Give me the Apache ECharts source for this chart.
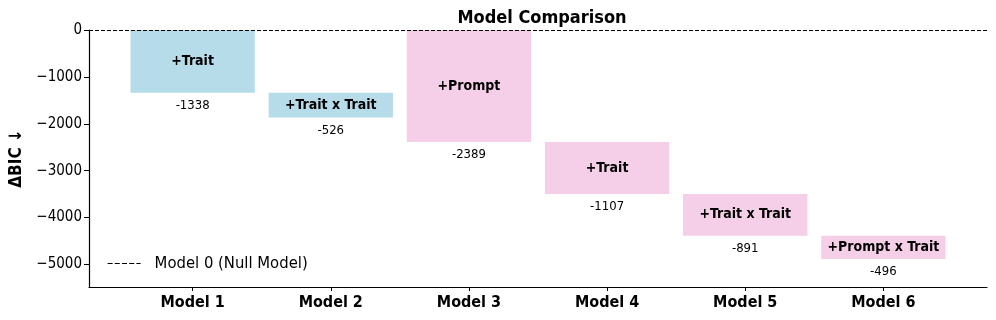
<!DOCTYPE html>
<html>
<head>
<meta charset="utf-8">
<script src="https://cdn.jsdelivr.net/npm/echarts@6/dist/echarts.min.js"></script>
<style>
  html, body { margin: 0; padding: 0; background: #fff; }
  #chart { width: 996px; height: 320px; }
</style>
</head>
<body>
<div id="chart"></div>
<script>
// data
const models = ['Model 1', 'Model 2', 'Model 3', 'Model 4', 'Model 5', 'Model 6']
const steps = ['+Trait', '+Trait x Trait', '+Prompt', '+Trait', '+Trait x Trait', '+Prompt x Trait']
const deltas = [-1338, -526, -2389, -1107, -891, -496]
// 0 = trait-only chain (blue), 1 = prompt chain (pink); a new chain starts again from 0
const groups = [0, 0, 1, 1, 1, 1]
const yTicks = [0, -1000, -2000, -3000, -4000, -5000]

const colors = ['#B5DCE8', '#F5CEE7']
const font = "'DejaVu Sans Condensed', 'DejaVu Sans', sans-serif"

// waterfall: each bar goes from the running total to running total + delta
let bars = []
let total = 0
for (let i = 0; i < deltas.length; i++) {
    if (i > 0 && groups[i] !== groups[i - 1]) total = 0
    bars.push([i, total, total + deltas[i], groups[i]])
    total += deltas[i]
}

function renderItem(params, api) {
    const i = api.value(0)
    const top = api.coord([i - 0.45, api.value(1)])
    const bot = api.coord([i + 0.45, api.value(2)])
    const cx = (top[0] + bot[0]) / 2
    return {
        type: 'group',
        children: [
            {
                type: 'rect',
                shape: { x: top[0], y: top[1], width: bot[0] - top[0], height: bot[1] - top[1] },
                style: { fill: colors[api.value(3)] }
            },
            {
                type: 'text',
                style: {
                    x: cx, y: (top[1] + bot[1]) / 2,
                    text: steps[params.dataIndex],
                    align: 'center', verticalAlign: 'middle',
                    font: 'bold 14px ' + font, fill: '#000'
                }
            },
            {
                type: 'text',
                style: {
                    x: cx, y: bot[1] + 13,
                    text: String(deltas[params.dataIndex]),
                    align: 'center', verticalAlign: 'middle',
                    font: '13px ' + font, fill: '#000'
                }
            }
        ]
    }
}

const chart = echarts.init(document.getElementById('chart'))
chart.setOption({
    animation: false,
    textStyle: { fontFamily: font },
    title: {
        text: 'Model Comparison',
        left: 537,
        textAlign: 'center',
        top: 4,
        textStyle: { fontSize: 18, fontWeight: 'bold', color: '#000', fontFamily: font }
    },
    legend: {
        left: 102,
        top: 250,
        itemWidth: 33,
        itemHeight: 14,
        data: ['Model 0 (Null Model)'],
        itemStyle: { color: 'rgba(0,0,0,0)', borderWidth: 0 },
        lineStyle: { type: [5, 2.2], width: 1.2, color: '#000' },
        textStyle: { fontSize: 16.5, color: '#000', padding: [0, 0, 0, 9] }
    },
    grid: { left: 87, right: 9, top: 30, bottom: 33 },
    xAxis: {
        type: 'value',
        min: -0.75,
        max: 5.75,
        splitLine: { show: false },
        axisLine: { onZero: false, lineStyle: { color: '#000', width: 1.2 } },
        axisTick: { show: true, length: 4, lineStyle: { color: '#000' }, customValues: models.map((m, i) => i) },
        axisLabel: {
            customValues: models.map((m, i) => i),
            formatter: v => models[v],
            color: '#000', fontSize: 16, fontWeight: 'bold', margin: 8
        }
    },
    yAxis: {
        type: 'value',
        min: -5480,
        max: 0,
        name: 'ΔBIC ↓',
        nameLocation: 'middle',
        nameRotate: 90,
        nameGap: 64,
        nameTextStyle: { fontSize: 17, fontWeight: 'bold', color: '#000' },
        splitLine: { show: false },
        axisLine: { show: true, onZero: false, lineStyle: { color: '#000', width: 1.2 } },
        axisTick: { show: true, length: 5, lineStyle: { color: '#000' }, customValues: yTicks },
        axisLabel: {
            customValues: yTicks,
            formatter: v => String(v).replace('-', '\u2212'),
            color: '#000', fontSize: 15, margin: 7
        }
    },
    series: [
        {
            type: 'custom',
            renderItem: renderItem,
            encode: { x: 0, y: [1, 2] },
            data: bars,
            silent: true
        },
        {
            name: 'Model 0 (Null Model)',
            type: 'line',
            data: [],
            symbol: 'none',
            lineStyle: { color: '#000', type: [4, 2], width: 1.2 },
            markLine: {
                silent: true,
                symbol: 'none',
                label: { show: false },
                lineStyle: { color: '#000', type: [4, 2], width: 1.2 },
                data: [{ yAxis: 0 }]
            }
        }
    ]
})
</script>
</body>
</html>
